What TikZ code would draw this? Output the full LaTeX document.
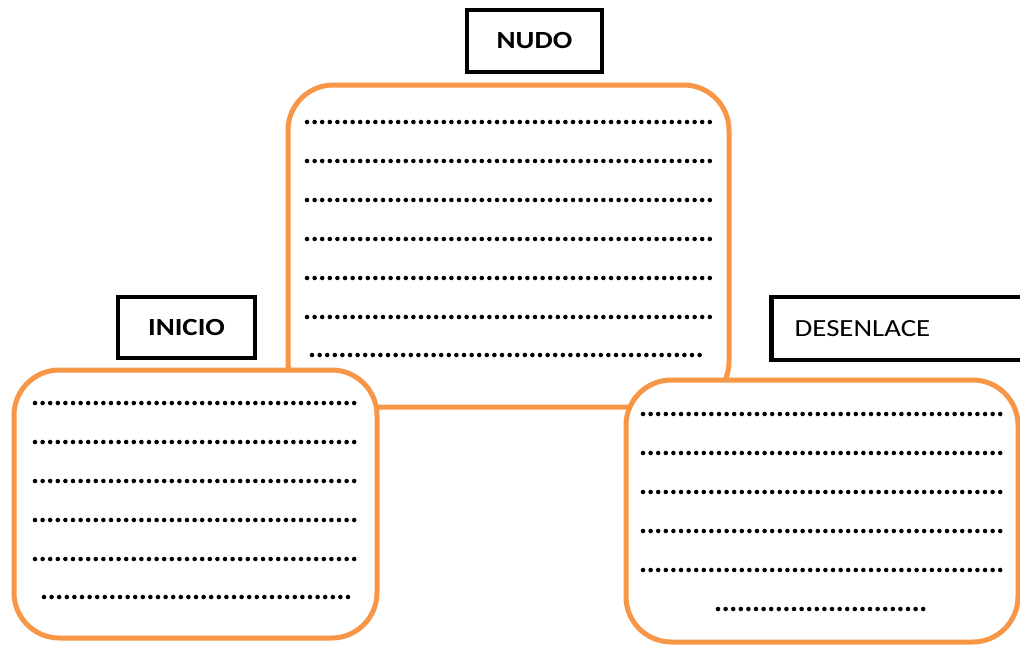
\documentclass[tikz,border=0pt]{standalone}
\usepackage{fontspec}
\setmainfont{Carlito}[FakeStretch=1.17]
\usepackage{tikz}
\usepackage{xcolor}
\usetikzlibrary{positioning}
\definecolor{naranja}{HTML}{F79646}

\begin{document}
\begin{tikzpicture}[x=0.75pt, y=-0.75pt,
            cuadro/.style={draw=naranja, line width=3.75pt, rounded corners=34pt, fill=white, inner sep=0pt},
            titulo/.style={draw=black, line width=3.5pt, fill=white, inner sep=0pt, font=\fontsize{18.5}{21}\selectfont},
            puntos/.style={line width=3.4pt, line cap=round, dash pattern=on 0pt off 5.7pt}]
            \useasboundingbox (0, 0) rectangle (1020, 646);

            \node[cuadro, minimum width=330.75pt, minimum height=241.5pt] (nudo) at (508.5, 246) {};
            \node[cuadro, minimum width=272.25pt, minimum height=201pt] (inicio) at (195.5, 504) {};
            \node[cuadro, minimum width=294pt, minimum height=196.5pt] (desenlace) at (822, 511) {};

            \node[titulo, minimum width=101.25pt, minimum height=46.5pt, font=\bfseries\fontsize{18.5}{21}\selectfont] (tnudo) at (534.5, 41) {NUDO};
            \node[titulo, minimum width=102.75pt, minimum height=45.75pt, font=\bfseries\fontsize{18.5}{21}\selectfont] (tinicio) at (186.5, 327.5) {INICIO};
            \node[titulo, anchor=west, minimum height=47.25pt, inner xsep=17.5pt, text width=163.5pt, align=left] (tdesenlace) at (769, 328.5) {DESENLACE};

            % lineas de puntos
            \foreach \y in {122, 161, 200, 239, 278, 317}
                \draw[puntos] (307, \y) -- (711, \y);
            \draw[puntos] (312, 355) -- (702, 355);
            \foreach \y in {403, 442, 481, 520, 559}
                \draw[puntos] (35, \y) -- (359, \y);
            \draw[puntos] (44, 597) -- (348, 597);
            \foreach \y in {414, 453, 492, 531, 570}
                \draw[puntos] (643, \y) -- (1006, \y);
            \draw[puntos] (718, 609) -- (929, 609);
        \end{tikzpicture}
\end{document}
